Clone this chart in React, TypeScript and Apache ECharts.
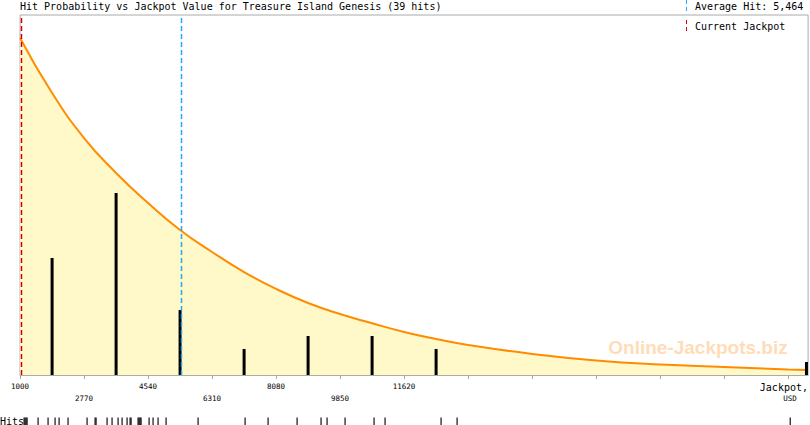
import React, { useEffect, useRef } from "react";
import * as echarts from "echarts";

// ---- data ----
const AXIS_ORIGIN = 1000; // USD at the left edge of the plot
const AXIS_STEP = 1770; // USD between ticks
const AXIS_END = 22793; // USD at the right edge of the plot
const tickLabels = ["1000", "2770", "4540", "6310", "8080", "9850", "11620"];

const avgHit = 5464;
const currentJackpot = 1039;

// individual hit amounts (USD)
const hits = [
  1111, 1138, 1166, 1194, 1498, 1774, 1968, 2079, 2327,
  2853, 3074, 3102, 3406, 3544, 3710, 3821, 3959, 4042, 4070, 4263, 4291, 4319, 4346,
  4568, 4678, 4816, 5038, 5923,
  7223, 7859,
  8661, 9324, 9490,
  9988, 10790, 11094,
  12643, 13086,
  22300,
];

// probability curve (scaled to hit counts)
const curveX = [1000, 1885, 2770, 3655, 4540, 5425, 6310, 7195, 8080, 8965, 9850, 10735, 11620, 12505, 13390, 15160, 16930, 18700, 20470, 22240, 22793];
const curveY = [25.92, 21.69, 18.23, 15.54, 13.23, 11.15, 9.46, 7.92, 6.62, 5.54, 4.69, 3.98, 3.31, 2.77, 2.31, 1.62, 1.12, 0.81, 0.62, 0.42, 0.38];

const Y_MAX = 360 / 13;

export default function App() {
  const ref = useRef<HTMLDivElement>(null);
  useEffect(() => {
    if (!ref.current) return;
    const chart = echarts.init(ref.current, null, { renderer: "svg" });

    // histogram of hits per axis step
    const counts: Record<number, number> = {};
    hits.forEach((h) => {
      const b = Math.floor((h - AXIS_ORIGIN) / AXIS_STEP);
      counts[b] = (counts[b] || 0) + 1;
    });
    const maxOff = AXIS_END - AXIS_ORIGIN;
    const barData = Object.keys(counts).map((k) => {
      const b = Number(k);
      let c = b * AXIS_STEP + AXIS_STEP / 2;
      if (c > maxOff - 45) c = maxOff - 45;
      return [c, counts[b]];
    });

    const mono = "DejaVu Sans Mono";
    const gray = "#aaaaaa";
    const blue = "#1eaaff";
    const red = "#d00000";

    const vline = (value: number, color: string) => ({
      type: "line",
      xAxisIndex: 0,
      yAxisIndex: 0,
      data: [
        [value - AXIS_ORIGIN, 0],
        [value - AXIS_ORIGIN, Y_MAX],
      ],
      silent: true,
      symbol: "none",
      z: 4,
      itemStyle: { color },
      lineStyle: { color, type: [5, 3], width: 1.5, opacity: 1 },
    });

    const option: any = {
      animation: false,
      grid: [
        { left: 20.09, top: 15, width: 788, height: 360, show: true, borderColor: gray, borderWidth: 1, backgroundColor: "transparent" },
        { left: 20.09, top: 418, width: 788, height: 7 },
      ],
      xAxis: [
        {
          type: "value",
          gridIndex: 0,
          min: 0,
          max: maxOff,
          interval: AXIS_STEP,
          splitLine: { show: false },
          axisLine: { show: true, lineStyle: { color: gray } },
          axisTick: { show: true, length: 4, lineStyle: { color: gray } },
          axisLabel: {
            fontFamily: mono,
            fontSize: 7.5,
            color: "#000",
            lineHeight: 12.5,
            margin: 5,
            showMaxLabel: false,
            formatter: (_v: number, i: number) =>
              i < tickLabels.length ? (i % 2 ? "\n" + tickLabels[i] : tickLabels[i]) : "",
          },
        },
        {
          type: "value",
          gridIndex: 1,
          min: 0,
          max: maxOff,
          show: false,
        },
      ],
      yAxis: [
        { type: "value", gridIndex: 0, min: 0, max: Y_MAX, show: false },
        { type: "value", gridIndex: 1, min: 0, max: 1, show: false },
      ],
      series: [
        {
          type: "line",
          xAxisIndex: 0,
          yAxisIndex: 0,
          data: curveX.map((x, i) => [x - AXIS_ORIGIN, curveY[i]]),
          smooth: true,
          symbol: "none",
          lineStyle: { color: "#ff8c00", width: 2 },
          areaStyle: { color: "#fff9ca", opacity: 1 },
          z: 1,
        },
        vline(currentJackpot, red),
        vline(avgHit, blue),
        {
          type: "bar",
          xAxisIndex: 0,
          yAxisIndex: 0,
          data: barData,
          barWidth: 3,
          itemStyle: { color: "#000" },
          z: 3,
        },
        {
          type: "scatter",
          xAxisIndex: 1,
          yAxisIndex: 1,
          data: hits.map((h) => [h - AXIS_ORIGIN, 0.5]),
          symbol: "rect",
          symbolSize: [1.4, 8],
          itemStyle: { color: "#000" },
        },
      ],
      graphic: [
        {
          type: "text",
          left: 20,
          top: 1,
          style: { text: "Hit Probability vs Jackpot Value for Treasure Island Genesis (39 hits)", fontFamily: mono, fontSize: 10, fill: "#000" },
        },
        {
          type: "line",
          shape: { x1: 686.5, y1: 0, x2: 686.5, y2: 12 },
          style: { stroke: blue, lineWidth: 1, lineDash: [4, 3] },
        },
        {
          type: "text",
          left: 695,
          top: 1,
          style: { text: "Average Hit: 5,464", fontFamily: mono, fontSize: 10, fill: "#000" },
        },
        {
          type: "line",
          shape: { x1: 686.5, y1: 20, x2: 686.5, y2: 32 },
          style: { stroke: red, lineWidth: 1, lineDash: [4, 3] },
        },
        {
          type: "text",
          left: 695,
          top: 21,
          style: { text: "Current Jackpot", fontFamily: mono, fontSize: 10, fill: "#000" },
        },
        {
          type: "text",
          x: 808,
          y: 387,
          style: { text: "Jackpot,", fontFamily: mono, fontSize: 10, fill: "#000", align: "right", verticalAlign: "middle" },
        },
        {
          type: "text",
          x: 790,
          y: 398.5,
          style: { text: "USD", fontFamily: mono, fontSize: 7.5, fill: "#000", align: "center", verticalAlign: "middle" },
        },
        {
          type: "text",
          x: 698,
          y: 347,
          z: 0,
          style: { text: "Online-Jackpots.biz", fontFamily: "Liberation Sans", fontWeight: "bold", fontSize: 19, fill: "#ffdcb8", align: "center", verticalAlign: "middle" },
        },
        {
          type: "text",
          x: 0,
          y: 421,
          style: { text: "Hits", fontFamily: mono, fontSize: 10, fill: "#000", verticalAlign: "middle" },
        },
      ],
    };
    chart.setOption(option);
    return () => chart.dispose();
  }, []);

  return (
    <div
      ref={ref}
      style={{ position: "absolute", left: 0, top: 0, width: 810, height: 425, background: "#fff" }}
    />
  );
}
